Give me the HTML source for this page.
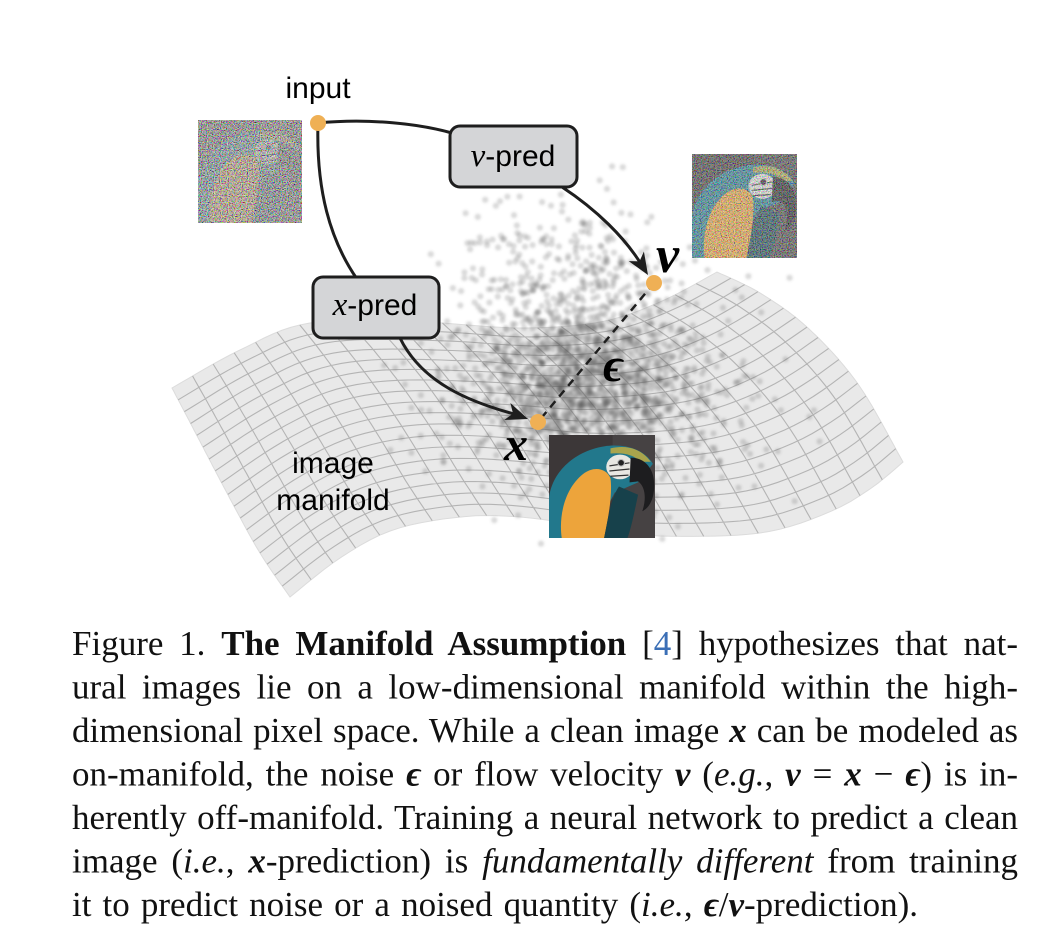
<!DOCTYPE html>
<html><head><meta charset="utf-8">
<style>
html,body{margin:0;padding:0;background:#fff;}
svg{display:block;}
.sans{font-family:"Liberation Sans",Arial,sans-serif;}
.serif{font-family:"Liberation Serif","DejaVu Serif",serif;}
.m{font-weight:bold;font-style:italic;font-family:"Liberation Serif","DejaVu Serif",serif;}
.it{font-style:italic;}
</style></head>
<body>
<svg id="fig" width="1060" height="938" viewBox="0 0 1060 938" xmlns="http://www.w3.org/2000/svg">
<defs>
  <filter id="noise" x="0" y="0" width="100%" height="100%">
    <feTurbulence type="fractalNoise" baseFrequency="0.85" numOctaves="1" seed="3"/>
    <feColorMatrix type="matrix" values="2.8 0 0 0 -0.9  0 2.8 0 0 -0.9  0 0 2.8 0 -0.9  0 0 0 0 1"/>
  </filter>
  <filter id="noise2" x="0" y="0" width="100%" height="100%">
    <feTurbulence type="fractalNoise" baseFrequency="0.85" numOctaves="1" seed="11"/>
    <feColorMatrix type="matrix" values="2.8 0 0 0 -0.9  0 2.8 0 0 -0.9  0 0 2.8 0 -0.9  0 0 0 0 1"/>
  </filter>
  <filter id="blur" x="-5%" y="-5%" width="110%" height="110%">
    <feGaussianBlur stdDeviation="1.2"/>
  </filter>
  <g id="parrot">
    <rect width="100" height="100" fill="#3c3738"/>
    <rect x="60" width="40" height="100" fill="#464243"/>
    <path d="M0,100 L0,62 C2,38 22,16 52,11 C72,8 90,14 98,28 L84,46 L62,56 L40,100 Z" fill="#22788c"/>
    <path d="M58,13 C74,9 88,14 96,26 L86,26 C80,19 70,17 58,18 Z" fill="#a9a44c"/>
    <path d="M12,100 C9,78 15,52 32,38 C42,30 54,32 58,42 C60,58 56,80 52,100 Z" fill="#eda43b"/>
    <path d="M52,100 C56,80 58,62 66,50 L84,58 C80,78 77,92 74,100 Z" fill="#17414b"/>
    <ellipse cx="67" cy="31" rx="13" ry="12" fill="#e8e7e2"/>
    <path d="M57,30 L76,27 M57,35 L76,33 M58,40 L75,39" stroke="#333" stroke-width="1.2" fill="none"/>
    <circle cx="68" cy="27" r="3.2" fill="#222" stroke="#bbb" stroke-width="1"/>
    <path d="M77,22 C92,22 101,35 99,54 C98,64 94,71 88,74 C92,62 91,50 84,45 L76,46 Z" fill="#1d1d1f"/>
  </g>
</defs>

<!-- manifold -->
<g id="mani"></g>
<!-- point cloud -->
<g id="cloud" filter="url(#blur)"></g>

<!-- images -->
<g transform="translate(198,120)">
  <rect width="104" height="103" fill="#7a7472"/>
  <g transform="scale(1.04,1.03)" opacity="0.45"><use href="#parrot"/></g>
  <rect width="104" height="103" filter="url(#noise)" opacity="0.72"/>
</g>
<g transform="translate(692,154)">
  <g transform="scale(1.05,1.04)"><use href="#parrot"/></g>
  <rect width="105" height="104" filter="url(#noise2)" opacity="0.5"/>
</g>
<g transform="translate(549,435)">
  <g transform="scale(1.06,1.03)"><use href="#parrot"/></g>
</g>

<!-- connectors -->
<g fill="none" stroke="#1e1e1e" stroke-width="3" stroke-linecap="round">
  <path d="M318,123 C370,118 420,124 452,133"/>
  <path d="M318,123 C316,190 330,240 357,279"/>
  <path d="M562,187 C597,210 625,238 641,264"/>
  <path d="M400,338 C422,383 470,402 514,414"/>
</g>
<line x1="654" y1="283" x2="538" y2="422" stroke="#1e1e1e" stroke-width="2.5" stroke-dasharray="8,6"/>
<polygon points="648,275 628.7,261.1 639.5,261.4 643.9,251.5" fill="#1e1e1e"/>
<polygon points="528,419 504.2,420 513,413.5 510.4,403" fill="#1e1e1e"/>

<!-- boxes -->
<rect x="450" y="126" width="127" height="61" rx="10" fill="#d4d5d7" stroke="#1e1e1e" stroke-width="3"/>
<text x="513" y="166" text-anchor="middle" class="sans" font-size="30"><tspan class="serif" font-style="italic" font-size="33">v</tspan>-pred</text>
<rect x="313" y="277" width="126" height="61" rx="10" fill="#d4d5d7" stroke="#1e1e1e" stroke-width="3"/>
<text x="375" y="315" text-anchor="middle" class="sans" font-size="30"><tspan class="serif" font-style="italic" font-size="33">x</tspan>-pred</text>

<!-- dots -->
<circle cx="318" cy="123" r="8" fill="#efb055"/>
<circle cx="654" cy="283" r="8" fill="#efb055"/>
<circle cx="538" cy="422" r="8" fill="#efb055"/>

<!-- labels -->
<text x="318" y="98" text-anchor="middle" class="sans" font-size="30">input</text>
<text x="333" y="473" text-anchor="middle" class="sans" font-size="30">image</text>
<text x="333" y="510" text-anchor="middle" class="sans" font-size="30">manifold</text>
<text x="656" y="272" class="m" font-size="52">v</text>
<text x="504" y="460" class="m" font-size="48">x</text>
<text x="603" y="381" class="m" font-size="48">ϵ</text>

<!-- caption -->
<g class="serif" font-size="35" fill="#111">
<text class="jl" data-w="946" x="72" y="655">Figure 1. <tspan font-weight="bold">The Manifold Assumption</tspan> [<tspan fill="#3b6fb6">4</tspan>] hypothesizes that nat-</text>
<text class="jl" data-w="946" x="72" y="698.5">ural images lie on a low-dimensional manifold within the high-</text>
<text class="jl" data-w="946" x="72" y="742">dimensional pixel space. While a clean image <tspan class="m">x</tspan> can be modeled as</text>
<text class="jl" data-w="946" x="72" y="785.5">on-manifold, the noise <tspan class="m">ϵ</tspan> or flow velocity <tspan class="m">v</tspan> (<tspan class="it">e.g.</tspan>, <tspan class="m">v</tspan> = <tspan class="m">x</tspan> − <tspan class="m">ϵ</tspan>) is in-</text>
<text class="jl" data-w="946" x="72" y="829">herently off-manifold. Training a neural network to predict a clean</text>
<text class="jl" data-w="946" x="72" y="872.5">image (<tspan class="it">i.e.</tspan>, <tspan class="m">x</tspan>-prediction) is <tspan class="it">fundamentally different</tspan> from training</text>
<text class="jl" data-w="846" x="72" y="916">it to predict noise or a noised quantity (<tspan class="it">i.e.</tspan>, <tspan class="m">ϵ</tspan>/<tspan class="m">v</tspan>-prediction).</text>
</g>
</svg>

<script>
(function(){
var NS='http://www.w3.org/2000/svg';
function cr(p,n){
  var out=[];
  for(var i=0;i<p.length-1;i++){
    var p0=p[Math.max(i-1,0)],p1=p[i],p2=p[i+1],p3=p[Math.min(i+2,p.length-1)];
    for(var k=0;k<n;k++){
      var t=k/n,t2=t*t,t3=t2*t;
      var f=function(a,b,c,d){return 0.5*((2*b)+(-a+c)*t+(2*a-5*b+4*c-d)*t2+(-a+3*b-3*c+d)*t3);};
      out.push([f(p0[0],p1[0],p2[0],p3[0]),f(p0[1],p1[1],p2[1],p3[1])]);
    }
  }
  out.push(p[p.length-1]);
  return out;
}
function mk(pts){
  var d=cr(pts,20),L=[0];
  for(var i=1;i<d.length;i++)L.push(L[i-1]+Math.hypot(d[i][0]-d[i-1][0],d[i][1]-d[i-1][1]));
  var tot=L[L.length-1];
  return function(s){
    var target=s*tot,i=1;
    while(i<L.length-1&&L[i]<target)i++;
    var f=(target-L[i-1])/((L[i]-L[i-1])||1);
    f=Math.max(0,Math.min(1,f));
    return [d[i-1][0]+f*(d[i][0]-d[i-1][0]),d[i-1][1]+f*(d[i][1]-d[i-1][1])];
  };
}
var TL=[172,388],TR=[717,272],BL=[290,597],BR=[903,462];
var top=mk([TL,[240,350],[310,323],[420,322],[520,328],[600,322],[660,302],TR]);
var bot=mk([BL,[340,558],[393,530],[460,517],[520,517],[600,528],[660,536],[760,533],[827,513],[870,489],BR]);
var lef=mk([TL,[193,428],[227,493],[260,553],BL]);
var rig=mk([TR,[760,293],[808,328],[858,384],BR]);
function P(s,t){
  var a=top(s),b=bot(s),c=lef(t),d=rig(t),r=[];
  for(var k=0;k<2;k++){
    r.push((1-t)*a[k]+t*b[k]+(1-s)*c[k]+s*d[k]-((1-s)*(1-t)*TL[k]+s*(1-t)*TR[k]+(1-s)*t*BL[k]+s*t*BR[k]));
  }
  return r;
}
function f1(v){return v.toFixed(1);}
var g=document.getElementById('mani');
var o=[],N=60,i,j;
for(i=0;i<=N;i++){o.push(top(i/N));}
for(i=0;i<=N;i++){o.push(rig(i/N));}
for(i=N;i>=0;i--){o.push(bot(i/N));}
for(i=N;i>=0;i--){o.push(lef(i/N));}
var dstr='M'+o.map(function(q){return f1(q[0])+','+f1(q[1]);}).join('L')+'Z';
var pa=document.createElementNS(NS,'path');
pa.setAttribute('d',dstr);pa.setAttribute('fill','#e9e9e9');pa.setAttribute('stroke','#dcdcdc');pa.setAttribute('stroke-width','1');
g.appendChild(pa);
var NSd=24,NTd=18,dd='';
for(i=1;i<NSd;i++){
  var s=i/NSd,pts=[];
  for(j=0;j<=40;j++)pts.push(P(s,j/40));
  dd+='M'+pts.map(function(q){return f1(q[0])+','+f1(q[1]);}).join('L');
}
for(j=1;j<NTd;j++){
  var t=j/NTd,pts2=[];
  for(i=0;i<=60;i++)pts2.push(P(i/60,t));
  dd+='M'+pts2.map(function(q){return f1(q[0])+','+f1(q[1]);}).join('L');
}
var gl=document.createElementNS(NS,'path');
gl.setAttribute('d',dd);gl.setAttribute('fill','none');gl.setAttribute('stroke','#b4b4b4');gl.setAttribute('stroke-width','1.1');
g.appendChild(gl);

// point cloud
var seed=12345;
function rnd(){seed|=0;seed=seed+0x6D2B79F5|0;var t=Math.imul(seed^seed>>>15,1|seed);t=t+Math.imul(t^t>>>7,61|t)^t;return((t^t>>>14)>>>0)/4294967296;}
function gs(){return Math.sqrt(-2*Math.log(rnd()+1e-9))*Math.cos(2*Math.PI*rnd());}
var cg=document.getElementById('cloud'),frag=document.createDocumentFragment();
function add(n,cx,cy,sx,sy){
  for(var k=0;k<n;k++){
    var x=cx+sx*gs(),y=cy+sy*gs();
    if(y<140||y>560||x<380||x>830)continue;
    var c=document.createElementNS(NS,'circle');
    c.setAttribute('cx',f1(x));c.setAttribute('cy',f1(y));c.setAttribute('r','3.1');
    c.setAttribute('fill','#555');c.setAttribute('fill-opacity','0.22');
    frag.appendChild(c);
  }
}
add(1300,582,385,62,38);
add(550,575,300,62,52);
add(260,600,440,90,42);
cg.appendChild(frag);

// justify caption lines via word-spacing
var lines=document.querySelectorAll('text.jl');
for(i=0;i<lines.length;i++){
  var el=lines[i],target=parseFloat(el.getAttribute('data-w'));
  var nat=el.getComputedTextLength();
  var sp=(el.textContent.match(/ /g)||[]).length;
  if(sp>0&&nat>0){
    var ws=(target-nat)/sp;
    el.setAttribute('word-spacing',ws.toFixed(2));
    el.style.wordSpacing=ws.toFixed(2)+'px';
  }
}
})();
</script>
</body></html>
